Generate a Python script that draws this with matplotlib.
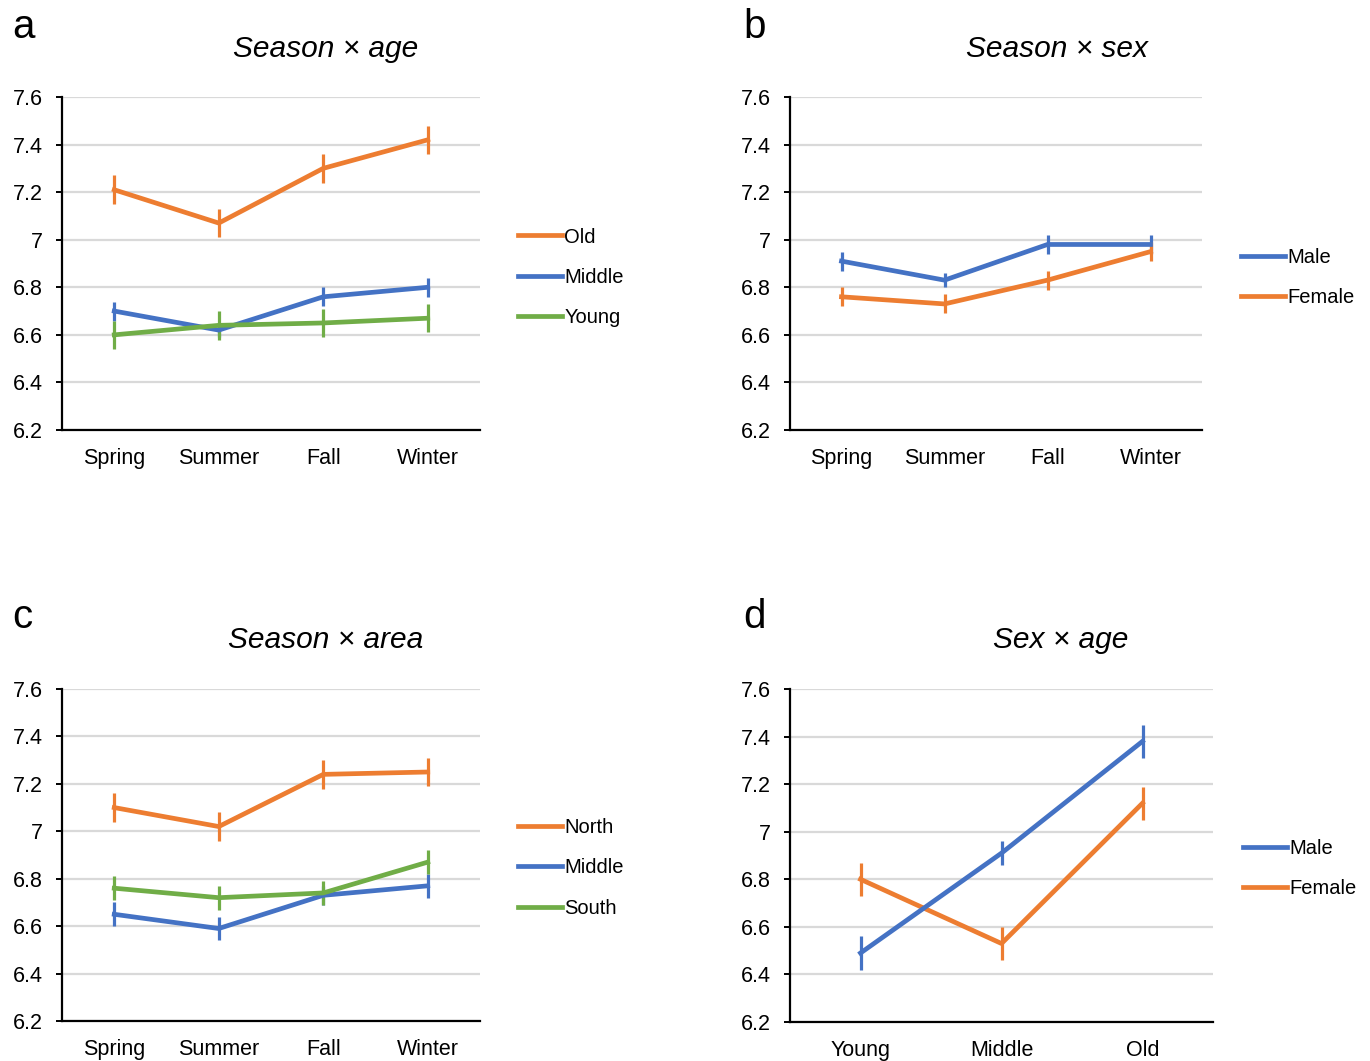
import matplotlib.pyplot as plt
from matplotlib.lines import Line2D

plt.rcParams['font.family'] = ['Liberation Sans', 'DejaVu Sans']

ORANGE = "#ED7D31"
BLUE = "#4472C4"
GREEN = "#70AD47"

seasons = ["Spring", "Summer", "Fall", "Winter"]
ages = ["Young", "Middle", "Old"]

# panel a: season x age
a_old = [7.21, 7.07, 7.30, 7.42]
a_old_err = [0.06, 0.06, 0.06, 0.06]
a_middle = [6.70, 6.62, 6.76, 6.80]
a_middle_err = [0.04, 0.03, 0.04, 0.04]
a_young = [6.60, 6.64, 6.65, 6.67]
a_young_err = [0.06, 0.06, 0.06, 0.06]

# panel b: season x sex
b_male = [6.91, 6.83, 6.98, 6.98]
b_male_err = [0.04, 0.03, 0.04, 0.04]
b_female = [6.76, 6.73, 6.83, 6.95]
b_female_err = [0.04, 0.04, 0.04, 0.04]

# panel c: season x area
c_north = [7.10, 7.02, 7.24, 7.25]
c_north_err = [0.06, 0.06, 0.06, 0.06]
c_middle = [6.65, 6.59, 6.73, 6.77]
c_middle_err = [0.05, 0.05, 0.04, 0.05]
c_south = [6.76, 6.72, 6.74, 6.87]
c_south_err = [0.05, 0.05, 0.05, 0.05]

# panel d: sex x age
d_male = [6.49, 6.91, 7.38]
d_male_err = [0.07, 0.05, 0.07]
d_female = [6.80, 6.53, 7.12]
d_female_err = [0.07, 0.07, 0.07]

W, H = 1370, 1061
fig = plt.figure(figsize=(W / 100, H / 100), dpi=100)


def make_axes(left, right, top, bottom):
    return fig.add_axes([left / W, (H - bottom) / H, (right - left) / W, (bottom - top) / H])


def style(ax, cats):
    ax.set_ylim(6.2, 7.6)
    ax.set_yticks([6.2, 6.4, 6.6, 6.8, 7.0, 7.2, 7.4, 7.6])
    ax.set_yticklabels(["6.2", "6.4", "6.6", "6.8", "7", "7.2", "7.4", "7.6"])
    ax.set_xlim(-0.5, len(cats) - 0.5)
    ax.set_xticks(range(len(cats)))
    ax.set_xticklabels(cats)
    ax.grid(axis="y", color="#d9d9d9", lw=1.6, zorder=0)
    ax.set_axisbelow(True)
    for s in ["top", "right"]:
        ax.spines[s].set_visible(False)
    ax.spines["left"].set_linewidth(1.6)
    ax.spines["bottom"].set_linewidth(1.6)
    ax.tick_params(axis="y", length=4, width=1.4, pad=10, labelsize=15.5)
    ax.tick_params(axis="x", length=0, pad=13, labelsize=15.5)


def series(ax, y, err, color, z=3):
    x = list(range(len(y)))
    ax.errorbar(x, y, yerr=err, color=color, lw=3.4, elinewidth=2.3, capsize=0, zorder=z)


def legend(ax, items, x, y):
    handles = [Line2D([], [], color=c, lw=3.4) for c, _ in items]
    ax.legend(handles, [t for _, t in items], loc="center left", bbox_to_anchor=(x, y),
              frameon=False, fontsize=14.5, handlelength=2.2, handletextpad=0.1,
              labelspacing=1.05, borderpad=0, borderaxespad=0)


# a
ax = make_axes(62, 480, 97, 430)
style(ax, seasons)
series(ax, a_old, a_old_err, ORANGE)
series(ax, a_middle, a_middle_err, BLUE)
series(ax, a_young, a_young_err, GREEN)
legend(ax, [(ORANGE, "Old"), (BLUE, "Middle"), (GREEN, "Young")], 1.091, 0.459)

# b
ax = make_axes(790, 1202, 97, 430)
style(ax, seasons)
series(ax, b_male, b_male_err, BLUE)
series(ax, b_female, b_female_err, ORANGE)
legend(ax, [(BLUE, "Male"), (ORANGE, "Female")], 1.095, 0.459)

# c
ax = make_axes(62, 480, 689, 1021)
style(ax, seasons)
series(ax, c_north, c_north_err, ORANGE)
series(ax, c_middle, c_middle_err, BLUE)
series(ax, c_south, c_south_err, GREEN)
legend(ax, [(ORANGE, "North"), (BLUE, "Middle"), (GREEN, "South")], 1.091, 0.461)

# d
ax = make_axes(790, 1213, 689, 1022)
style(ax, ages)
series(ax, d_male, d_male_err, BLUE, z=4)
series(ax, d_female, d_female_err, ORANGE, z=3)
legend(ax, [(BLUE, "Male"), (ORANGE, "Female")], 1.071, 0.461)

# titles and panel letters
titles = [("Season × age", 326, 49), ("Season × sex", 1057, 49),
          ("Season × area", 326, 640), ("Sex × age", 1061, 640)]
for t, x, y in titles:
    fig.text(x / W, 1 - y / H, t, ha="center", va="center", fontsize=21.5, style="italic")

letters = [("a", 12, 27), ("b", 743, 27), ("c", 12, 617), ("d", 743, 617)]
for t, x, y in letters:
    fig.text(x / W, 1 - y / H, t, ha="left", va="center", fontsize=29)

fig.savefig("out.png", dpi=100)
